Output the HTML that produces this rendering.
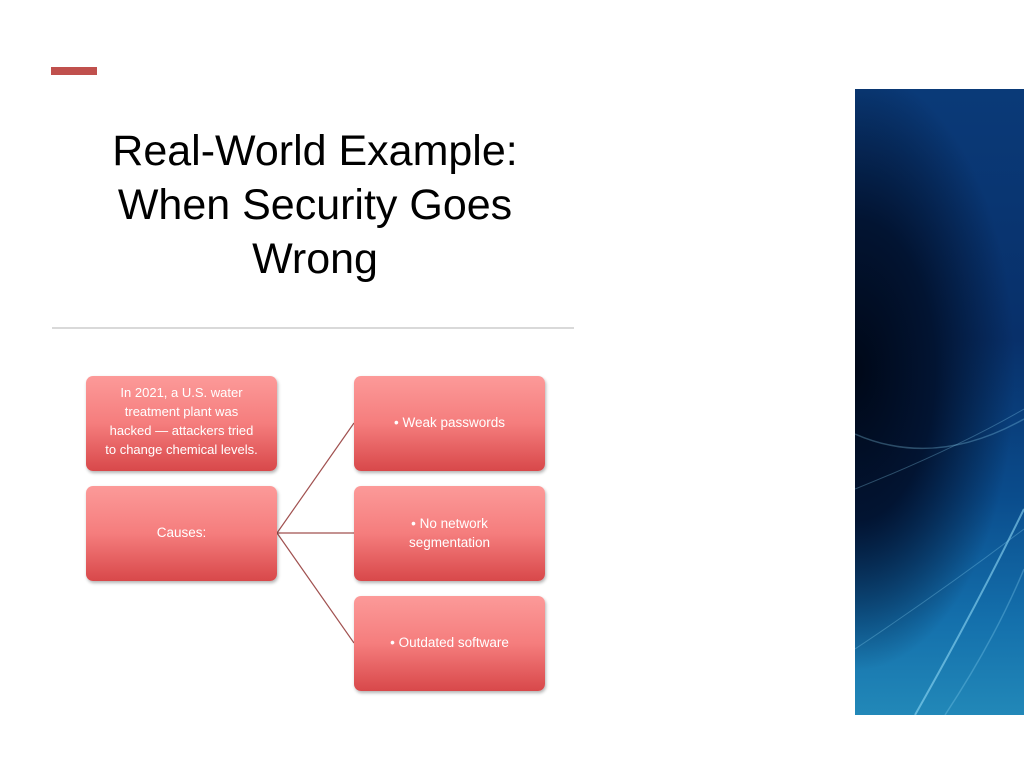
<!DOCTYPE html>
<html><head><meta charset="utf-8"><style>
body{margin:0;width:1024px;height:768px;background:#fff;position:relative;overflow:hidden;font-family:"Liberation Sans",sans-serif}
.bar{position:absolute;left:51px;top:67px;width:46px;height:8px;background:#c0504d}
.title{position:absolute;left:52px;width:526px;top:124px;text-align:center;font-size:43px;line-height:54px;color:#000}
.hr{position:absolute;left:52px;top:327px;width:522px;height:2px;background:#d9d9d9}
.box{position:absolute;width:191px;height:95px;border-radius:7px;background:linear-gradient(#fc9a99,#f57d7d 50%,#d8484a);box-shadow:1px 2px 3px rgba(0,0,0,.3);color:#fff;font-size:13.5px;line-height:19px;text-align:center;display:flex;align-items:center;justify-content:center;box-sizing:border-box;padding:0 2px;white-space:nowrap}
.img{position:absolute;left:855px;top:89px;width:169px;height:626px;background:radial-gradient(ellipse 160px 300px at 0% 45%,#000818 0%,#021432 50%,rgba(2,20,50,0) 100%),linear-gradient(#0a3a78,#08306a 40%,#0a4c8c 65%,#1470ac 85%,#2288b8 100%)}
</style></head><body>
<div class="bar"></div>
<div class="title">Real-World Example:<br>When Security Goes<br>Wrong</div>
<div class="hr"></div>
<svg style="position:absolute;left:0;top:0" width="1024" height="768">
<g stroke="#a0504f" stroke-width="1.2" fill="none">
<line x1="277" y1="533" x2="354" y2="423"/>
<line x1="277" y1="533" x2="354" y2="533"/>
<line x1="277" y1="533" x2="354" y2="643"/>
</g></svg>
<div class="box" style="left:86px;top:376px;padding-bottom:6px;font-size:13px">In 2021, a U.S. water<br>treatment plant was<br>hacked — attackers tried<br>to change chemical levels.</div>
<div class="box" style="left:86px;top:486px;padding-bottom:2px">Causes:</div>
<div class="box" style="left:354px;top:376px;padding-bottom:2px">• Weak passwords</div>
<div class="box" style="left:354px;top:486px;padding-bottom:2px">• No network<br>segmentation</div>
<div class="box" style="left:354px;top:596px;padding-bottom:2px">• Outdated software</div>
<div class="img">
<svg width="169" height="626" style="position:absolute;left:0;top:0">
<g fill="none" stroke="#8fd8f5" stroke-opacity=".3">
<path d="M0 345 Q80 380 169 330" stroke-width="1.5"/>
<path d="M0 400 Q100 360 169 320" stroke-width="1"/>
<path d="M60 626 Q120 520 169 420" stroke-width="2" stroke-opacity=".6"/>
<path d="M90 626 Q140 550 169 480" stroke-width="1.5"/>
<path d="M0 560 Q90 500 169 440" stroke-width="1"/>
</g></svg>
</div>
</body></html>
